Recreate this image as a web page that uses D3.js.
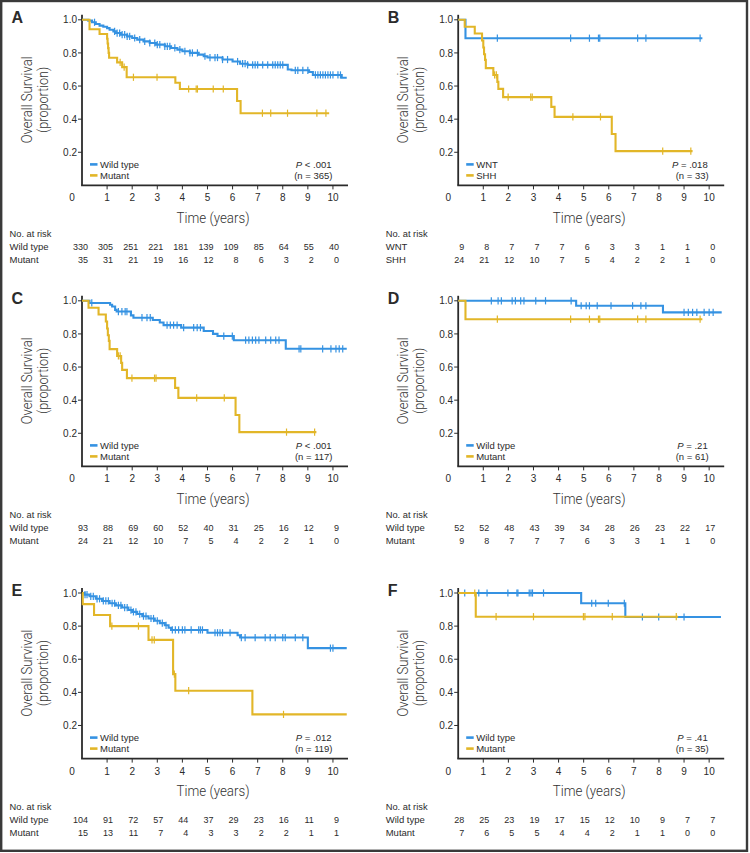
<!DOCTYPE html>
<html><head><meta charset="utf-8">
<script src="https://cdn.jsdelivr.net/npm/d3@7"></script>
<style>
body{margin:0;background:#fff}
svg{display:block}
text{font-family:"Liberation Sans",Arial,Helvetica,sans-serif;fill:#2b2b2b}
text.title{font-family:Roboto,"Liberation Sans",Arial,sans-serif;font-weight:300;fill:#333}
</style>
</head><body><svg id="chart" width="750" height="853"></svg>
<script>
// ---------- DATA ----------
const panelLetters = ["A","B","C","D","E","F"];
const groupLabels = [["Wild type","Mutant"],["WNT","SHH"],["Wild type","Mutant"],["Wild type","Mutant"],["Wild type","Mutant"],["Wild type","Mutant"]];
const pLabels = ["< .001","= .018","< .001","= .21","= .012","= .41"];
const nLabels = ["(n = 365)","(n = 33)","(n = 117)","(n = 61)","(n = 119)","(n = 35)"];
const xTickValues = [1,2,3,4,5,6,7,8,9,10];
const yTickValues = [0.2,0.4,0.6,0.8,1.0];
const riskTimes = [0,1,2,3,4,5,6,7,8,9,10];

// Panel A
const aWildSteps = [[0,1],[0.25,0.995],[0.4,0.985],[0.55,0.975],[0.7,0.965],[0.85,0.958],[1.0,0.95],[1.1,0.94],[1.25,0.93],[1.35,0.92],[1.55,0.91],[1.8,0.90],[2.0,0.89],[2.2,0.88],[2.45,0.87],[2.7,0.86],[2.95,0.85],[3.3,0.84],[3.55,0.83],[3.8,0.82],[4.0,0.81],[4.3,0.80],[4.65,0.79],[4.85,0.78],[5.0,0.772],[5.6,0.76],[6.0,0.748],[6.3,0.735],[6.6,0.728],[8.2,0.70],[8.35,0.695],[9.05,0.685],[9.2,0.667],[10.35,0.65]];
const aWildEnd = 10.55;
const aWildCens = [0.5,1.3,1.4,1.5,1.6,1.7,1.8,1.9,2.1,2.3,2.5,2.7,2.9,3.0,3.1,3.3,3.4,3.5,3.7,3.9,4.1,4.3,4.4,4.6,4.9,5.1,5.3,5.4,5.6,5.8,6.2,6.4,6.5,6.6,6.8,6.9,7.0,7.2,7.4,7.6,7.7,7.8,7.9,8.0,8.5,8.6,8.8,9.0,9.3,9.4,9.5,9.6,9.7,9.8,9.9,10.0,10.2,10.3];
const aMutSteps = [[0,1],[0.3,0.943],[0.7,0.914],[1.0,0.886],[1.02,0.857],[1.04,0.829],[1.06,0.8],[1.08,0.771],[1.4,0.743],[1.6,0.714],[1.78,0.653],[3.72,0.62],[3.9,0.582],[6.18,0.51],[6.32,0.436]];
const aMutEnd = 9.85;
const aMutCens = [1.52,1.68,2.05,2.99,4.25,4.55,4.6,5.23,5.63,7.19,7.52,8.19,9.36,9.72];
const aRiskWild = [330,305,251,221,181,139,109,85,64,55,40];
const aRiskMut = [35,31,21,19,16,12,8,6,3,2,0];

// Panel B (WNT vs SHH)
const wntSteps = [[0,1],[0.29,0.889]];
const wntEnd = 9.73;
const wntCens = [1.56,4.48,5.23,5.59,5.64,7.15,7.48,9.64];
const shhSteps = [[0,1],[0.26,0.958],[0.66,0.917],[0.95,0.875],[1.0,0.833],[1.03,0.792],[1.07,0.758],[1.1,0.708],[1.4,0.667],[1.56,0.625],[1.6,0.583],[1.79,0.533],[3.71,0.474],[3.84,0.414],[6.12,0.31],[6.27,0.207]];
const shhEnd = 9.34;
const shhCens = [1.45,1.52,1.99,2.89,2.95,4.57,5.67,8.15,9.27];
const bRiskWnt = [9,8,7,7,7,6,3,3,1,1,0];
const bRiskShh = [24,21,12,10,7,5,4,2,2,1,0];

// Panel C
const cWildSteps = [[0,1],[0.3,0.987],[1.12,0.976],[1.2,0.966],[1.32,0.945],[1.38,0.935],[1.95,0.912],[2.05,0.898],[2.82,0.884],[3.1,0.869],[3.25,0.853],[3.95,0.838],[4.85,0.818],[5.22,0.80],[5.4,0.787],[6.05,0.762],[8.12,0.71]];
const cWildEnd = 10.55;
const cWildCens = [0.39,1.45,1.59,1.72,1.79,2.39,2.59,2.72,3.39,3.52,3.65,3.79,4.05,4.45,4.59,4.72,5.65,5.99,6.52,6.65,6.79,6.92,7.05,7.32,7.52,7.72,7.85,8.65,8.72,9.59,9.92,10.12,10.25,10.39];
const cRiskWild = [93,88,69,60,52,40,31,25,16,12,9];
const cRiskMut = [24,21,12,10,7,5,4,2,2,1,0];

// Panel D
const dWildSteps = [[0,1],[4.7,0.97],[8.16,0.93]];
const dWildEnd = 10.5;
const dWildCens = [1.32,1.59,1.72,2.15,2.28,2.49,2.62,3.09,3.48,4.5,4.9,5.1,5.23,5.54,6.09,6.95,7.28,7.48,9.0,9.17,9.34,9.51,9.8,10.0,10.16];
const dRiskWild = [52,52,48,43,39,34,28,26,23,22,17];
const dRiskMut = [9,8,7,7,7,6,3,3,1,1,0];

// Panel E
const eWildSteps = [[0,1],[0.1,0.99],[0.3,0.98],[0.55,0.965],[0.8,0.952],[1.1,0.938],[1.35,0.925],[1.6,0.912],[1.85,0.897],[2.0,0.886],[2.2,0.873],[2.4,0.86],[2.65,0.846],[2.9,0.832],[3.1,0.818],[3.3,0.805],[3.45,0.79],[3.55,0.777],[5.0,0.76],[6.2,0.745],[6.3,0.731],[9.0,0.667]];
const eWildEnd = 10.55;
const eWildCens = [0.12,0.2,0.35,0.45,0.6,0.7,0.85,0.95,1.05,1.2,1.3,1.45,1.55,1.7,1.8,1.95,2.05,2.15,2.3,2.45,2.55,2.75,2.85,3.0,3.2,3.35,3.6,3.72,3.85,4.0,4.1,4.35,4.65,4.72,4.8,5.3,5.4,5.5,5.6,5.9,6.35,6.5,6.9,7.3,7.5,7.7,8.0,8.1,8.5,8.8,9.9,10.0];
const eMutSteps = [[0,1],[0.03,0.933],[0.48,0.867],[1.12,0.80],[2.65,0.717],[3.63,0.51],[3.72,0.41],[6.79,0.267]];
const eMutEnd = 10.55;
const eMutCens = [1.19,2.25,2.79,2.88,3.68,4.25,8.03];
const eRiskWild = [104,91,72,57,44,37,29,23,16,11,9];
const eRiskMut = [15,13,11,7,4,3,3,2,2,1,1];

// Panel F
const fWildSteps = [[0,1],[4.9,0.938],[6.66,0.855]];
const fWildEnd = 10.47;
const fWildCens = [0.26,0.82,1.15,1.98,2.34,2.38,2.83,2.9,2.96,3.4,5.32,5.48,5.98,6.62,7.34,7.99,9.0];
const fMutSteps = [[0,1],[0.7,0.857]];
const fMutEnd = 8.76;
const fMutCens = [0.66,1.51,3.0,4.99,5.05,6.14,8.69];
const fRiskWild = [28,25,23,19,17,15,12,10,9,7,7];
const fRiskMut = [7,6,5,5,4,4,2,1,1,0,0];

// ---------- BUILD ----------
const seriesSets = [
  [{steps:aWildSteps,end:aWildEnd,cens:aWildCens,risk:aRiskWild},{steps:aMutSteps,end:aMutEnd,cens:aMutCens,risk:aRiskMut}],
  [{steps:wntSteps,end:wntEnd,cens:wntCens,risk:bRiskWnt},{steps:shhSteps,end:shhEnd,cens:shhCens,risk:bRiskShh}],
  [{steps:cWildSteps,end:cWildEnd,cens:cWildCens,risk:cRiskWild},{steps:shhSteps,end:shhEnd,cens:shhCens,risk:cRiskMut}],
  [{steps:dWildSteps,end:dWildEnd,cens:dWildCens,risk:dRiskWild},{steps:wntSteps,end:wntEnd,cens:wntCens,risk:dRiskMut}],
  [{steps:eWildSteps,end:eWildEnd,cens:eWildCens,risk:eRiskWild},{steps:eMutSteps,end:eMutEnd,cens:eMutCens,risk:eRiskMut}],
  [{steps:fWildSteps,end:fWildEnd,cens:fWildCens,risk:fRiskWild},{steps:fMutSteps,end:fMutEnd,cens:fMutCens,risk:fRiskMut}]
];

const colors = ["#3592e2","#e2b628"];
const colX = [82, 458.2];
const rowY = [19.8, 300.8, 593];
const plotW = 266, plotH = 165.6;
const ink = "#2b2b2b";

const svg = d3.select("#chart");
svg.append("rect").attr("x",1.2).attr("y",1).attr("width",745.8).attr("height",849.8)
  .attr("fill","none").attr("stroke","#3a3a3a").attr("stroke-width",2.4);

function survAt(steps, t){ let s = 1; for (const [tt,v] of steps) if (tt <= t) s = v; return s; }

seriesSets.forEach((sets, i) => {
  const x0 = colX[i % 2], y0 = rowY[Math.floor(i / 2)];
  const x = d3.scaleLinear().domain([0, 10.6]).range([x0, x0 + plotW]);
  const y = d3.scaleLinear().domain([0, 1]).range([y0 + plotH, y0]);
  const g = svg.append("g");
  const base = y(0);

  g.append("text").attr("x", x0 - 70.5).attr("y", y0 + 2.8).text(panelLetters[i])
    .attr("font-size", 16).attr("font-weight", "bold").attr("fill", "#111");

  g.append("line").attr("x1", x0).attr("x2", x0).attr("y1", y(1) - 5).attr("y2", base)
    .attr("stroke", ink).attr("stroke-width", 1.8);
  g.append("line").attr("x1", x0 - 0.9).attr("x2", x.range()[1]).attr("y1", base).attr("y2", base)
    .attr("stroke", ink).attr("stroke-width", 1.8);
  yTickValues.forEach(v => {
    g.append("line").attr("x1", x0 - 4).attr("x2", x0).attr("y1", y(v)).attr("y2", y(v)).attr("stroke", ink).attr("stroke-width", 1);
    g.append("text").attr("x", x0 - 5).attr("y", y(v)).attr("dy", "0.36em").attr("text-anchor", "end")
      .attr("font-size", 10).text(v.toFixed(1));
  });
  xTickValues.forEach(v => {
    g.append("line").attr("x1", x(v)).attr("x2", x(v)).attr("y1", base).attr("y2", base + 4).attr("stroke", ink).attr("stroke-width", 1);
    g.append("text").attr("x", x(v)).attr("y", base + 16).attr("text-anchor", "middle")
      .attr("font-size", 10).text(v);
  });
  g.append("text").attr("x", x0 - 10).attr("y", base + 16).attr("text-anchor", "middle").attr("font-size", 10).text("0");

  g.append("text").attr("class","title").attr("transform", `translate(${x0 - 50.5},${y0 + 80}) rotate(-90)`)
    .attr("text-anchor", "middle").attr("font-size", 15)
    .attr("textLength", 87).attr("lengthAdjust", "spacingAndGlyphs").text("Overall Survival");
  g.append("text").attr("class","title").attr("transform", `translate(${x0 - 34.5},${y0 + 80}) rotate(-90)`)
    .attr("text-anchor", "middle").attr("font-size", 15)
    .attr("textLength", 66).attr("lengthAdjust", "spacingAndGlyphs").text("(proportion)");
  g.append("text").attr("class","title").attr("x", x0 + 131).attr("y", base + 37.3).attr("text-anchor", "middle")
    .attr("font-size", 14.5).attr("textLength", 73).attr("lengthAdjust", "spacingAndGlyphs").text("Time (years)");

  const line = d3.line().x(d => x(d[0])).y(d => y(d[1])).curve(d3.curveStepAfter);
  sets.forEach((s, k) => {
    const pts = s.steps.concat([[s.end, s.steps[s.steps.length - 1][1]]]);
    g.append("path").attr("d", line(pts)).attr("fill", "none").attr("stroke", colors[k]).attr("stroke-width", 2.1);
    g.selectAll(null).data(s.cens).enter().append("line")
      .attr("x1", d => x(d)).attr("x2", d => x(d))
      .attr("y1", d => y(survAt(s.steps, d)) - 3.6).attr("y2", d => y(survAt(s.steps, d)) + 3.6)
      .attr("stroke", colors[k]).attr("stroke-width", 1.2);
  });

  groupLabels[i].forEach((lab, k) => {
    const ly = base - 21 + k * 11;
    g.append("line").attr("x1", x0 + 8).attr("x2", x0 + 15.5).attr("y1", ly).attr("y2", ly)
      .attr("stroke", colors[k]).attr("stroke-width", 2.6);
    g.append("text").attr("x", x0 + 18).attr("y", ly).attr("dy", "0.35em").attr("font-size", 9.5).text(lab);
  });
  const pt = g.append("text").attr("x", x0 + 249.5).attr("y", base - 21).attr("dy", "0.35em")
    .attr("text-anchor", "end").attr("font-size", 9.5);
  pt.append("tspan").attr("font-style", "italic").text("P");
  pt.append("tspan").text(" " + pLabels[i]);
  g.append("text").attr("x", x0 + 250.5).attr("y", base - 10).attr("dy", "0.35em")
    .attr("text-anchor", "end").attr("font-size", 9.5).text(nLabels[i]);

  const lx = x0 - 72.5;
  g.append("text").attr("x", lx).attr("y", base + 51.5).attr("font-size", 9.3).text("No. at risk");
  groupLabels[i].forEach((lab, k) => {
    const ry = base + 64.3 + k * 13;
    g.append("text").attr("x", lx).attr("y", ry).attr("font-size", 9.5).text(lab);
    g.selectAll(null).data(sets[k].risk).enter().append("text")
      .attr("x", (d, j) => x(riskTimes[j]) + 6).attr("y", ry)
      .attr("text-anchor", "end").attr("font-size", 9).text(d => d);
  });
});
</script></body></html>
